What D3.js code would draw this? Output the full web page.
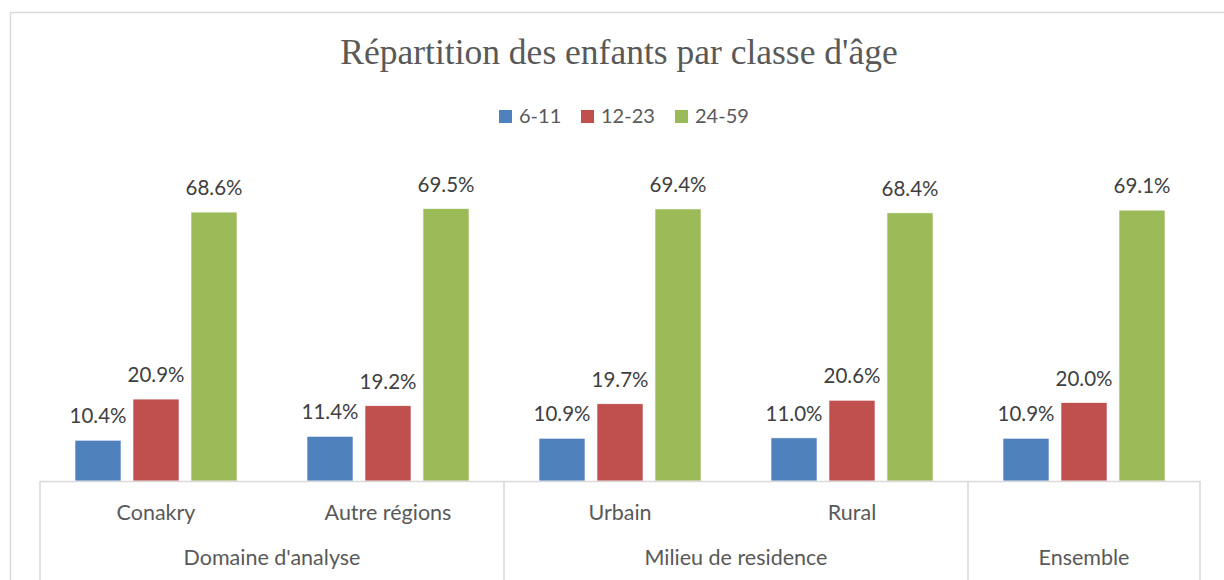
<!DOCTYPE html>
<html>
<head>
<meta charset="utf-8">
<script src="https://cdn.jsdelivr.net/npm/d3@7"></script>
<style>
  body { margin: 0; background: #fff; }
  svg { display: block; }
</style>
</head>
<body>
<div id="chart"></div>
<script>
// categories and groups
const categories = ['Conakry', 'Autre régions', 'Urbain', 'Rural', 'Ensemble'];
const subLabels = ['Conakry', 'Autre régions', 'Urbain', 'Rural', ''];
const groups = [
  {name: "Domaine d'analyse", from: 'Conakry', to: 'Autre régions'},
  {name: 'Milieu de residence', from: 'Urbain', to: 'Rural'},
  {name: 'Ensemble', from: 'Ensemble', to: 'Ensemble'}
];
const seriesNames = ['6-11', '12-23', '24-59'];
const values611 = [10.4, 11.4, 10.9, 11.0, 10.9];
const values1223 = [20.9, 19.2, 19.7, 20.6, 20.0];
const values2459 = [68.6, 69.5, 69.4, 68.4, 69.1];
const colors = ['#4F81BD', '#C0504D', '#9BBB59'];

const seriesValues = [values611, values1223, values2459];
const data = [];
categories.forEach((c, i) => {
  seriesNames.forEach((s, j) => data.push({cat: c, series: s, value: seriesValues[j][i], color: colors[j]}));
});

const W = 1224, H = 580;
const svg = d3.select('#chart').append('svg').attr('width', W).attr('height', H);

// outer frame
svg.append('rect')
  .attr('x', 10.5).attr('y', 12.5)
  .attr('width', 1240).attr('height', 600)
  .attr('fill', 'none').attr('stroke', '#d9d9d9').attr('stroke-width', 1.5);

const sans = 'Lato, "Noto Sans", sans-serif';

// title
svg.append('text')
  .attr('x', 619).attr('y', 64)
  .attr('text-anchor', 'middle')
  .attr('font-family', '"Liberation Serif", "DejaVu Serif", serif')
  .attr('font-size', 35.5)
  .attr('fill', '#595959')
  .text("Répartition des enfants par classe d'âge");

// legend
const legendX = [499, 581, 675];
const legend = svg.append('g');
seriesNames.forEach((s, j) => {
  legend.append('rect')
    .attr('x', legendX[j]).attr('y', 110).attr('width', 13).attr('height', 13)
    .attr('fill', colors[j]);
  legend.append('text')
    .attr('x', legendX[j] + 20).attr('y', 123)
    .attr('font-family', sans).attr('font-size', 20).attr('fill', '#595959')
    .text(s);
});

const baseY = 481;
const x = d3.scaleBand().domain(categories).range([40, 1200]);
const xs = d3.scaleBand().domain(seriesNames).range([0, x.bandwidth()])
  .paddingInner(0.207).paddingOuter(0.6035);
const y = d3.scaleLinear().domain([0, 80]).range([baseY, baseY - 80 * 3.92]);

// bars
svg.append('g').selectAll('rect')
  .data(data)
  .enter().append('rect')
  .attr('x', d => x(d.cat) + xs(d.series))
  .attr('y', d => y(d.value))
  .attr('width', xs.bandwidth())
  .attr('height', d => y(0) - y(d.value))
  .attr('fill', d => d.color)
  .attr('stroke', '#fff').attr('stroke-width', 0.6);

// data labels
svg.append('g').selectAll('text')
  .data(data)
  .enter().append('text')
  .attr('x', d => x(d.cat) + xs(d.series) + xs.bandwidth() / 2)
  .attr('y', d => y(d.value) - 17)
  .attr('text-anchor', 'middle')
  .attr('font-family', sans).attr('font-size', 20.5).attr('fill', '#404040')
  .text(d => d.value.toFixed(1) + '%');

// category axis
const axis = svg.append('g')
  .attr('transform', `translate(0,${baseY})`)
  .call(d3.axisBottom(x).tickSize(0).tickPadding(0).tickFormat((d, i) => subLabels[i]));
axis.select('.domain').attr('stroke', '#d9d9d9').attr('stroke-width', 1.5);
axis.selectAll('.tick text')
  .attr('dy', null).attr('y', 39)
  .attr('font-family', sans).attr('font-size', 21.5).attr('fill', '#595959');

// group separators and labels
const edges = [40];
groups.forEach(g => edges.push(x(g.to) + x.bandwidth()));
svg.append('g').selectAll('line')
  .data(edges)
  .enter().append('line')
  .attr('x1', d => d).attr('x2', d => d)
  .attr('y1', baseY).attr('y2', H)
  .attr('stroke', '#d9d9d9').attr('stroke-width', 1.5);

svg.append('g').selectAll('text')
  .data(groups)
  .enter().append('text')
  .attr('x', g => (x(g.from) + x(g.to) + x.bandwidth()) / 2)
  .attr('y', 565)
  .attr('text-anchor', 'middle')
  .attr('font-family', sans).attr('font-size', 21.5).attr('fill', '#595959')
  .text(g => g.name);
</script>
</body>
</html>
